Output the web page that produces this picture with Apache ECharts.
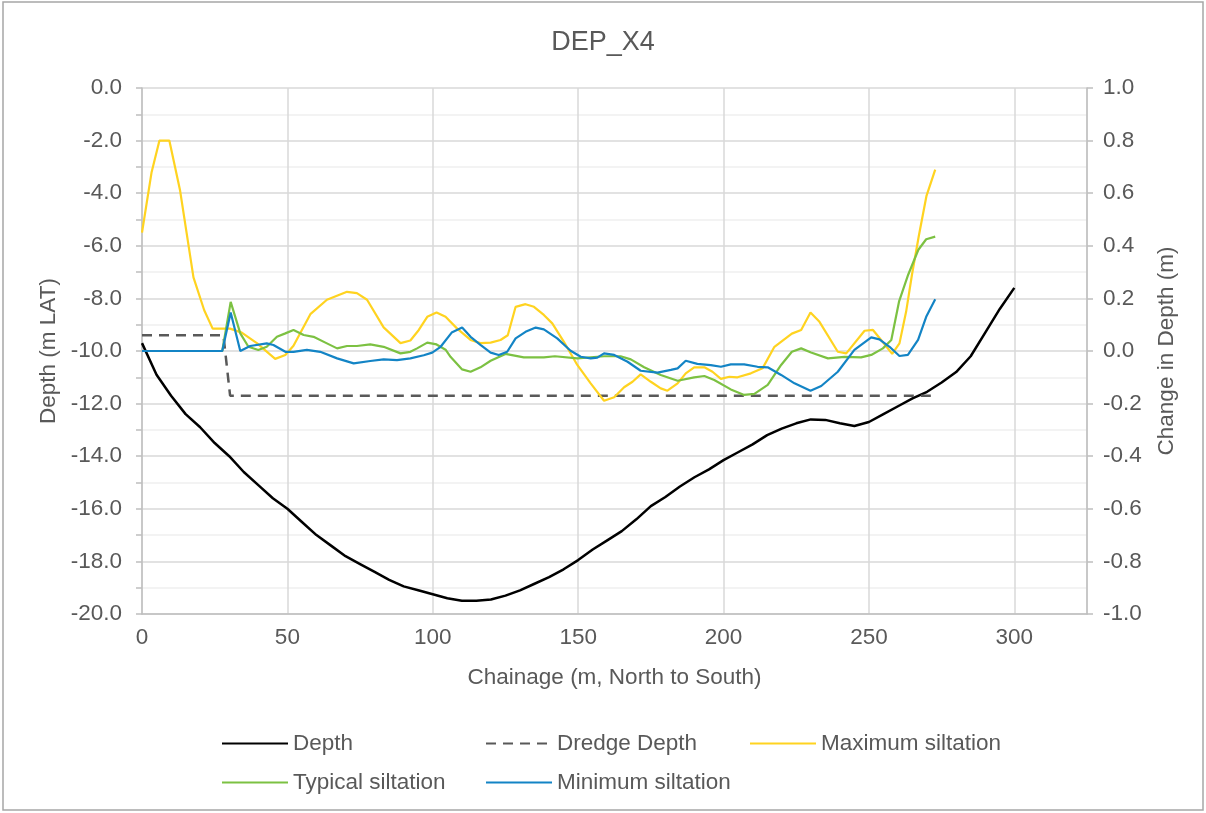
<!DOCTYPE html>
<html>
<head>
<meta charset="utf-8">
<script src="https://cdn.jsdelivr.net/npm/echarts@6/dist/echarts.min.js"></script>
<style>
  body { margin: 0; background: #fff; }
  #chart { width: 1206px; height: 813px; }
</style>
</head>
<body>
<div id="chart"></div>
<script>
// depth profile, left axis (m LAT)
const depthX = [0, 5, 10, 15, 20, 25, 30, 35, 40, 45, 50, 55, 60, 65, 70, 75, 80, 85, 90, 95,
  100, 105, 110, 115, 120, 125, 130, 135, 140, 145, 150, 155, 160, 165, 170, 175, 180, 185, 190, 195,
  200, 205, 210, 215, 220, 225, 230, 235, 240, 245, 250, 255, 260, 265, 270, 275, 280, 285, 290, 295, 300]
const depthY = [-9.7, -10.9, -11.7, -12.4, -12.9, -13.5, -14.0, -14.6, -15.1, -15.6, -16.0, -16.5, -17.0, -17.4, -17.8, -18.1, -18.4, -18.7, -18.95, -19.1,
  -19.25, -19.4, -19.5, -19.5, -19.45, -19.3, -19.1, -18.85, -18.6, -18.3, -17.95, -17.55, -17.2, -16.85, -16.4, -15.9, -15.55, -15.15, -14.8, -14.5,
  -14.15, -13.85, -13.55, -13.2, -12.95, -12.75, -12.6, -12.62, -12.75, -12.85, -12.7, -12.4, -12.1, -11.8, -11.55, -11.2, -10.8, -10.2, -9.3, -8.4, -7.6]

const dredgeX = [0, 28, 30.3, 272.5]
const dredgeY = [-9.4, -9.4, -11.7, -11.7]

// siltation, right axis (change in depth, m)
const maxX = [0, 3.3, 6, 9.4, 13.1, 17.7, 21.4, 24.3, 30.3, 34.3, 39.5, 45.8, 49.3, 52.1, 57.9, 63.6, 70.5, 73.9, 77.4, 83.1,
  88.9, 92.3, 95.2, 98.1, 101.3, 104.4, 108.4, 113, 116.4, 119.9, 123.3, 125.8, 128.5, 131.9, 134.8, 138.2, 141.1, 145.1, 149.7, 154.3,
  158.9, 162.4, 165.8, 168.7, 171.5, 175, 178.4, 180.7, 184.2, 187, 189.9, 193.4, 196.2, 199.1, 202, 204.8, 209.4, 213.4, 217.5, 223.5,
  226.7, 229.9, 233, 239.3, 242.2, 248.5, 251.4, 254.2, 258, 260.5, 262.8, 264.8, 267.2, 269.8, 272.8]
const maxY = [0.45, 0.68, 0.8, 0.8, 0.61, 0.28, 0.155, 0.085, 0.085, 0.07, 0.03, -0.03, -0.015, 0.02, 0.14, 0.195, 0.225, 0.22, 0.195, 0.09,
  0.03, 0.04, 0.08, 0.13, 0.146, 0.13, 0.085, 0.042, 0.03, 0.032, 0.042, 0.06, 0.168, 0.178, 0.168, 0.137, 0.105, 0.035, -0.053, -0.123,
  -0.189, -0.176, -0.138, -0.117, -0.089, -0.117, -0.142, -0.151, -0.123, -0.085, -0.062, -0.062, -0.079, -0.106, -0.098, -0.1, -0.085, -0.066, 0.016, 0.066,
  0.08, 0.146, 0.111, -0.003, -0.009, 0.077, 0.08, 0.042, -0.011, 0.029, 0.15, 0.29, 0.44, 0.59, 0.69]

const typX = [0, 27.6, 30.5, 33.8, 36.6, 40, 42.9, 46.4, 49.3, 52.1, 55.6, 59, 63.6, 67.1, 70.5, 73.9, 78.5, 83.1, 88.9, 92.3,
  94.6, 98.1, 101.3, 104.4, 106.1, 110.1, 113, 116.4, 119.9, 125, 131.3, 138.2, 142, 149.7, 158.9, 164.6, 168.1, 172.7, 178.4, 184.2,
  189.9, 193.4, 196.8, 202.5, 207.1, 210.6, 215.2, 219.8, 223.5, 226.7, 230.1, 235.9, 241.6, 247.3, 250.8, 254.8, 257.7, 260.4, 263.5, 267,
  269.7, 272.8]
const typY = [0, 0, 0.187, 0.067, 0.016, 0.004, 0.016, 0.054, 0.067, 0.08, 0.061, 0.054, 0.029, 0.01, 0.019, 0.019, 0.025, 0.016, -0.009, -0.003,
  0.01, 0.032, 0.025, 0.005, -0.022, -0.07, -0.079, -0.062, -0.037, -0.011, -0.024, -0.024, -0.02, -0.028, -0.02, -0.02, -0.032, -0.062, -0.091, -0.113,
  -0.1, -0.095, -0.11, -0.146, -0.167, -0.163, -0.129, -0.053, -0.003, 0.01, -0.006, -0.028, -0.022, -0.024, -0.015, 0.01, 0.042, 0.19, 0.29, 0.385,
  0.425, 0.435]

const minX = [0, 27.6, 30.5, 33.8, 37.2, 42.9, 45.2, 49.3, 52.1, 56.7, 61.3, 67.1, 72.8, 78.5, 83.1, 87.7, 92.3, 96.9, 99.8, 102.7,
  106.5, 110.1, 113, 116.4, 119.9, 122.7, 125.6, 128.5, 131.9, 135.4, 138.2, 142.8, 147.4, 150.9, 154.3, 156.6, 158.9, 162.4, 167, 171.5,
  177.3, 181.9, 184.2, 187, 191, 195.6, 199.1, 202.5, 207.1, 211.7, 215.2, 219.8, 224.4, 229.9, 233.6, 239.3, 245, 250.8, 253.6, 257.1,
  260.5, 263.4, 266.9, 269.7, 272.8]
const minY = [0, 0, 0.146, 0, 0.019, 0.029, 0.023, -0.003, -0.003, 0.004, -0.003, -0.028, -0.047, -0.038, -0.032, -0.035, -0.028, -0.016, -0.006, 0.016,
  0.07, 0.089, 0.054, 0.023, -0.006, -0.015, -0.003, 0.048, 0.073, 0.089, 0.082, 0.048, 0.001, -0.022, -0.028, -0.025, -0.009, -0.015, -0.041, -0.075,
  -0.082, -0.072, -0.066, -0.037, -0.049, -0.054, -0.06, -0.051, -0.051, -0.06, -0.062, -0.091, -0.123, -0.151, -0.133, -0.079, 0.004, 0.052, 0.044, 0.016,
  -0.019, -0.015, 0.042, 0.13, 0.197]

const pairs = (xs, ys) => xs.map((x, i) => [x, ys[i]])

const grey = '#595959'
const font = 'Liberation Sans'
const fs = 22.5

const myChart = echarts.init(document.getElementById('chart'))
myChart.setOption({
  animation: false,
  textStyle: { fontFamily: font },
  title: {
    text: 'DEP_X4',
    left: 'center',
    top: 24,
    textStyle: { fontSize: 27, fontWeight: 'normal', color: grey, fontFamily: font }
  },
  graphic: [{
    type: 'rect',
    shape: { x: 3, y: 2, width: 1200, height: 808 },
    style: { fill: 'none', stroke: '#a6a6a6', lineWidth: 1.5 }
  }],
  grid: { left: 142, right: 119, top: 88, bottom: 199 },
  legend: [
    { data: ['Depth'], left: 221, top: 732 },
    { data: ['Dredge Depth'], left: 485, top: 732 },
    { data: ['Maximum siltation'], left: 749, top: 732 },
    { data: ['Typical siltation'], left: 221, top: 771 },
    { data: ['Minimum siltation'], left: 485, top: 771 }
  ].map(l => Object.assign(l, {
    itemWidth: 66, itemHeight: 14, padding: 0,
    itemStyle: { opacity: 0 },
    textStyle: { fontSize: fs, color: grey, fontFamily: font }
  })),
  xAxis: {
    type: 'value',
    min: 0,
    max: 325,
    interval: 50,
    name: 'Chainage (m, North to South)',
    nameLocation: 'middle',
    nameGap: 52,
    nameTextStyle: { fontSize: fs, color: grey },
    axisLine: { onZero: false, lineStyle: { color: '#bfbfbf', width: 1.5 } },
    axisTick: { show: false },
    axisLabel: { fontSize: fs, color: grey, margin: 12, showMaxLabel: false },
    splitLine: { lineStyle: { color: '#d9d9d9', width: 1.5 } }
  },
  yAxis: [{
    type: 'value',
    min: -20,
    max: 0,
    interval: 2,
    name: 'Depth (m LAT)',
    nameLocation: 'middle',
    nameGap: 82,
    nameTextStyle: { fontSize: fs, color: grey },
    axisLine: { show: true, onZero: false, lineStyle: { color: '#bfbfbf', width: 1.5 } },
    axisTick: { show: true, length: 6, lineStyle: { color: '#bfbfbf', width: 1.5 } },
    minorTick: { show: true, splitNumber: 2, length: 6, lineStyle: { color: '#bfbfbf', width: 1.5 } },
    axisLabel: { fontSize: fs, color: grey, margin: 20, formatter: v => v.toFixed(1) },
    splitLine: { lineStyle: { color: '#d9d9d9', width: 1.5 } },
    minorSplitLine: { show: true, lineStyle: { color: '#f0f0f0', width: 1.5 } }
  }, {
    type: 'value',
    min: -1,
    max: 1,
    interval: 0.2,
    name: 'Change in Depth (m)',
    nameLocation: 'middle',
    nameGap: 68,
    nameTextStyle: { fontSize: fs, color: grey },
    axisLine: { show: true, onZero: false, lineStyle: { color: '#bfbfbf', width: 1.5 } },
    axisTick: { show: true, length: 6, lineStyle: { color: '#bfbfbf', width: 1.5 } },
    axisLabel: { fontSize: fs, color: grey, margin: 16, formatter: v => v.toFixed(1) },
    splitLine: { show: false }
  }],
  series: [{
    name: 'Depth',
    type: 'line',
    yAxisIndex: 0,
    symbol: 'none',
    data: pairs(depthX, depthY),
    lineStyle: { color: '#000', width: 2.5 },
    itemStyle: { color: '#000' }
  }, {
    name: 'Dredge Depth',
    type: 'line',
    yAxisIndex: 0,
    symbol: 'none',
    data: pairs(dredgeX, dredgeY),
    lineStyle: { color: '#595959', width: 2.5, type: [10, 7] },
    itemStyle: { color: '#595959' }
  }, {
    name: 'Maximum siltation',
    type: 'line',
    yAxisIndex: 1,
    symbol: 'none',
    data: pairs(maxX, maxY),
    lineStyle: { color: '#ffd320', width: 2.2 },
    itemStyle: { color: '#ffd320' }
  }, {
    name: 'Typical siltation',
    type: 'line',
    yAxisIndex: 1,
    symbol: 'none',
    data: pairs(typX, typY),
    lineStyle: { color: '#7cc142', width: 2.2 },
    itemStyle: { color: '#7cc142' }
  }, {
    name: 'Minimum siltation',
    type: 'line',
    yAxisIndex: 1,
    symbol: 'none',
    data: pairs(minX, minY),
    lineStyle: { color: '#1384c5', width: 2.2 },
    itemStyle: { color: '#1384c5' }
  }]
})
</script>
</body>
</html>
